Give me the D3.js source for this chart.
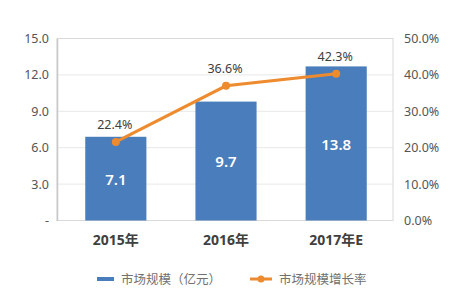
<!DOCTYPE html>
<html>
<head>
<meta charset="utf-8">
<script src="https://cdn.jsdelivr.net/npm/d3@7"></script>
<style>
  body { margin: 0; background: #fff; }
  text { font-family: "Noto Sans", "Noto Sans CJK SC", sans-serif; }
</style>
</head>
<body>
<div id="chart"></div>
<script>
// categories and values
const years = ["2015年", "2016年", "2017年E"];
const marketSize = [6.9, 9.8, 12.7];          // bar heights as drawn
const marketLabels = ["7.1", "9.7", "13.8"];  // labels printed on bars
const growthRate = [21.6, 37.0, 40.3];        // line points as drawn (%)
const growthLabels = ["22.4%", "36.6%", "42.3%"];
const leftTicks = [0, 3, 6, 9, 12, 15];
const rightTicks = [0, 10, 20, 30, 40, 50];
const legendNames = ["市场规模（亿元）", "市场规模增长率"];

const W = 466, H = 302;
const plot = {left: 57, right: 393, top: 38.5, bottom: 220.5};
const blue = "#4a7dbb", orange = "#ed8b2e";

const svg = d3.select("#chart").append("svg")
    .attr("width", W).attr("height", H);

const x = d3.scaleBand()
    .domain(years)
    .range([61, 391])
    .paddingInner(0.445)
    .paddingOuter(0.22);

const yL = d3.scaleLinear().domain([0, 15]).range([plot.bottom, plot.top]);
const yR = d3.scaleLinear().domain([0, 50]).range([plot.bottom, plot.top]);

// gridlines
svg.append("g").selectAll("line")
    .data(leftTicks.slice(1))
    .enter().append("line")
    .attr("x1", plot.left).attr("x2", plot.right)
    .attr("y1", d => yL(d)).attr("y2", d => yL(d))
    .attr("stroke", "#e8e8e8").attr("stroke-width", 1);

// frame
svg.append("rect")
    .attr("x", plot.left).attr("y", plot.top)
    .attr("width", plot.right - plot.left)
    .attr("height", plot.bottom - plot.top)
    .attr("fill", "none")
    .attr("stroke", "#d9d9d9");

// left axis
const leftAxis = svg.append("g")
    .attr("transform", `translate(${plot.left},0)`)
    .call(d3.axisLeft(yL).tickValues(leftTicks)
        .tickFormat(d => d === 0 ? "-" : d3.format(".1f")(d))
        .tickSize(0).tickPadding(8));
leftAxis.select(".domain").attr("stroke", "#c8c8c8").attr("stroke-width", 1.5);
leftAxis.selectAll("text").attr("fill", "#555").attr("font-size", 12.5);

// right axis
const rightAxis = svg.append("g")
    .attr("transform", `translate(${plot.right},0)`)
    .call(d3.axisRight(yR).tickValues(rightTicks)
        .tickFormat(d => d3.format(".1f")(d) + "%")
        .tickSize(0).tickPadding(11));
rightAxis.select(".domain").remove();
rightAxis.selectAll("text").attr("fill", "#555").attr("font-size", 12.5);

// bottom labels
svg.append("g").selectAll("text")
    .data(years)
    .enter().append("text")
    .attr("x", d => x(d) + x.bandwidth() / 2)
    .attr("y", 245)
    .attr("text-anchor", "middle")
    .attr("font-size", 14)
    .attr("font-weight", "bold")
    .attr("fill", "#404040")
    .text(d => d);

// bars
svg.append("g").selectAll("rect")
    .data(marketSize)
    .enter().append("rect")
    .attr("x", (d, i) => x(years[i]))
    .attr("y", d => yL(d))
    .attr("width", x.bandwidth())
    .attr("height", d => yL(0) - yL(d))
    .attr("fill", blue);

// bar labels
const barLabelY = [179, 161.5, 144];
svg.append("g").selectAll("text")
    .data(marketLabels)
    .enter().append("text")
    .attr("x", (d, i) => x(years[i]) + x.bandwidth() / 2)
    .attr("y", (d, i) => barLabelY[i] + 5.5)
    .attr("text-anchor", "middle")
    .attr("font-size", 15)
    .attr("font-weight", 600)
    .attr("fill", "#fff")
    .text(d => d);

// line
const line = d3.line()
    .x((d, i) => x(years[i]) + x.bandwidth() / 2)
    .y(d => yR(d));

svg.append("path")
    .datum(growthRate)
    .attr("d", line)
    .attr("fill", "none")
    .attr("stroke", orange)
    .attr("stroke-width", 3);

svg.append("g").selectAll("circle")
    .data(growthRate)
    .enter().append("circle")
    .attr("cx", (d, i) => x(years[i]) + x.bandwidth() / 2)
    .attr("cy", d => yR(d))
    .attr("r", 4)
    .attr("fill", orange);

// line labels
svg.append("g").selectAll("text")
    .data(growthLabels)
    .enter().append("text")
    .attr("x", (d, i) => x(years[i]) + x.bandwidth() / 2 - 1)
    .attr("y", (d, i) => yR(growthRate[i]) - 13)
    .attr("text-anchor", "middle")
    .attr("font-size", 12.5)
    .attr("fill", "#404040")
    .text(d => d);

// legend
const legend = svg.append("g");
legend.append("rect")
    .attr("x", 97).attr("y", 277).attr("width", 17).attr("height", 4)
    .attr("fill", blue);
legend.append("text")
    .attr("x", 121).attr("y", 283.5)
    .attr("font-size", 12.5).attr("fill", "#707070")
    .text(legendNames[0]);
legend.append("line")
    .attr("x1", 250).attr("x2", 272).attr("y1", 279).attr("y2", 279)
    .attr("stroke", orange).attr("stroke-width", 3);
legend.append("circle")
    .attr("cx", 261).attr("cy", 279).attr("r", 3.5)
    .attr("fill", orange);
legend.append("text")
    .attr("x", 279).attr("y", 283.5)
    .attr("font-size", 12.5).attr("fill", "#707070")
    .text(legendNames[1]);
</script>
</body>
</html>
